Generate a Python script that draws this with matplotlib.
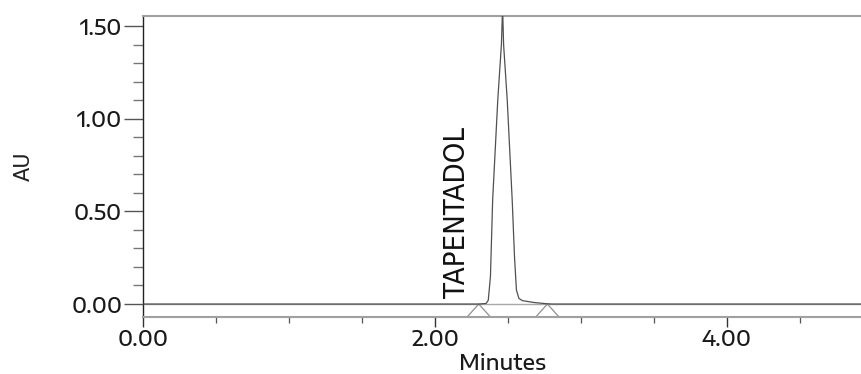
import matplotlib
matplotlib.use("Agg")
import matplotlib.pyplot as plt
from matplotlib.ticker import MultipleLocator, FixedLocator

# ---- data ----
time_min = [0.00, 2.30, 2.35, 2.365, 2.38, 2.395, 2.43, 2.455, 2.463, 2.47,
            2.495, 2.529, 2.545, 2.558, 2.575, 2.60, 2.68, 2.76, 2.80, 5.00]
absorbance = [0.000, 0.000, 0.003, 0.020, 0.150, 0.560, 1.100, 1.400, 1.600, 1.400,
              1.100, 0.560, 0.250, 0.075, 0.030, 0.018, 0.008, 0.002, 0.000, 0.000]
peak_name = "TAPENTADOL"
peak_label_time = 2.15
event_times = [2.30, 2.77]
x_major = [0.0, 2.0, 4.0]
x_major_labels = ["0.00", "2.00", "4.00"]
y_major = [0.0, 0.5, 1.0, 1.5]
y_major_labels = ["0.00", "0.50", "1.00", "1.50"]

WIDE = ["Encode Sans Expanded", "DejaVu Sans"]

W, H, DPI = 862, 374, 100
fig = plt.figure(figsize=(W / DPI, H / DPI), dpi=DPI)
ax = fig.add_axes([143 / W, 1 - 317 / H, 1 - 143 / W, (317 - 16) / H])

ymin, ymax = -0.07, 1.554
ax.set_xlim(0, 4.925)
ax.set_ylim(ymin, ymax)

ax.axhline(0, color="#a8a8a8", lw=1.0, zorder=1)
ax.plot(time_min, absorbance, color="#505050", lw=0.9, zorder=3)
hw = 0.08
for t in event_times:
    ax.plot([t - hw, t, t + hw], [ymin, 0, ymin], color="#909090", lw=0.9,
            zorder=2, clip_on=False)

ax.text(peak_label_time, 0.03, peak_name, rotation=90, ha="center", va="bottom",
        fontsize=21, family="DejaVu Sans", fontstretch="condensed", color="#111111")

ax.spines["right"].set_visible(False)
ax.spines["top"].set_color("#a0a0a0")
ax.spines["top"].set_linewidth(1.5)
ax.spines["bottom"].set_color("#a0a0a0")
ax.spines["bottom"].set_linewidth(1.5)
ax.spines["left"].set_color("#222222")
ax.spines["left"].set_linewidth(1.0)

ax.xaxis.set_major_locator(FixedLocator(x_major))
ax.set_xticklabels(x_major_labels)
ax.xaxis.set_minor_locator(MultipleLocator(0.5))
ax.yaxis.set_major_locator(FixedLocator(y_major))
ax.set_yticklabels(y_major_labels)
ax.yaxis.set_minor_locator(MultipleLocator(0.1))

ax.tick_params(axis="x", which="major", direction="out", length=7, width=1.0,
               color="#333333", pad=2)
ax.tick_params(axis="x", which="minor", direction="out", length=4, width=0.9,
               color="#555555")
ax.tick_params(axis="y", which="major", direction="out", length=14, width=1.0,
               color="#555555", pad=1)
ax.tick_params(axis="y", which="minor", direction="out", length=7, width=1.0,
               color="#777777")
for lbl in ax.get_xticklabels() + ax.get_yticklabels():
    lbl.set_color("#1a1a1a")
    lbl.set_family(WIDE)
    lbl.set_fontsize(15)
    lbl.set_fontweight("medium")

ax.set_xlabel("Minutes", fontsize=15, family=WIDE, fontweight="medium",
              color="#1a1a1a", labelpad=1)
ax.set_ylabel("AU", fontsize=15, family="DejaVu Sans", color="#222222", labelpad=27)

fig.savefig("out.png", dpi=DPI, facecolor="white")
